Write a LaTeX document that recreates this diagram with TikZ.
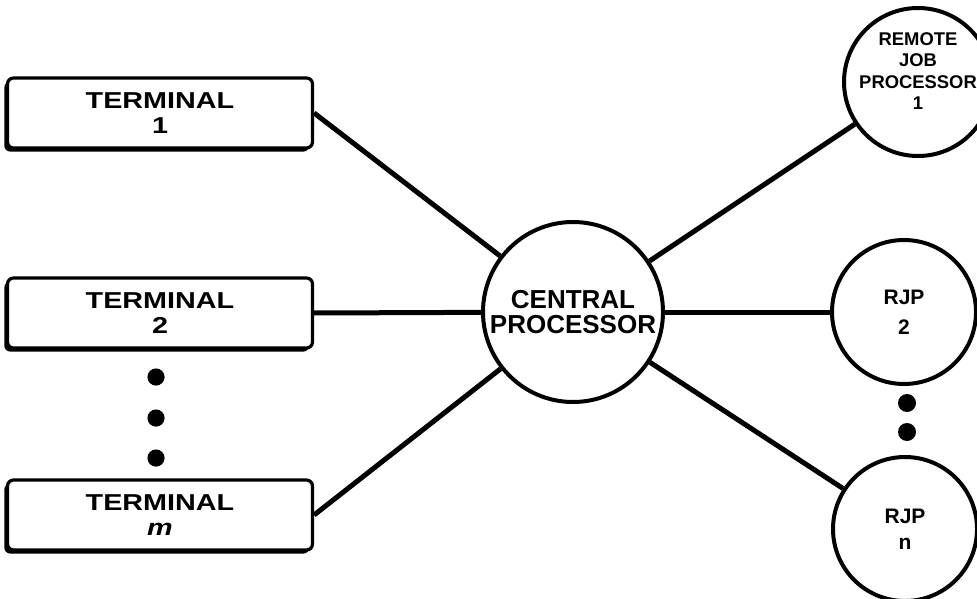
\documentclass[tikz,border=0pt]{standalone}
\usepackage{fontspec}
\setmainfont{Liberation Sans}
\newfontfamily\widefont{Liberation Sans}[FakeStretch=1.25]
\usetikzlibrary{shadows}

\begin{document}
\begin{tikzpicture}[x=0.5pt,y=-0.5pt,
	terminal/.style={draw,fill=white,line width=1.6pt,rounded corners=3pt,minimum width=152.5pt,minimum height=35pt,align=center,
		font=\widefont\bfseries\fontsize{11.5}{12.5}\selectfont,
		drop shadow={fill=black,opacity=1,shadow xshift=-1.6pt,shadow yshift=-1.8pt}},
	proc/.style={draw,fill=white,circle,line width=2pt,align=center,inner sep=0pt,font=\bfseries\fontsize{10.5}{15}\selectfont},
	link/.style={line width=2.5pt}]
	%page frame
	\clip (0,0) rectangle (977,598);
	%terminals
	\node[terminal] (t1) at (160,113) {TERMINAL\\1};
	\node[terminal] (t2) at (160,313) {TERMINAL\\2};
	\node[terminal] (tm) at (160,515) {TERMINAL\\\itshape m};
	%central processor
	\node[proc,minimum size=90pt,font=\bfseries\fontsize{13}{12.5}\selectfont] (cp) at (573,312) {CENTRAL\\PROCESSOR};
	%remote job processors
	\node[proc,minimum size=74pt] (rjp1) at (918,82) {};
	\node[align=center,inner sep=0pt,font=\bfseries\fontsize{9.2}{10.8}\selectfont] (rjp1text) at (918,71) {REMOTE\\JOB\\PROCESSOR\\1};
	\node[proc,minimum size=72pt] (rjp2) at (904,312) {RJP\\2};
	\node[proc,minimum size=72pt,font=\bfseries\fontsize{10.5}{13}\selectfont] (rjpn) at (905,529) {RJP\\n};
	%links to the central processor
	\draw[link] (t1.east) -- (cp);
	\draw[link] (t2.east) -- (cp);
	\draw[link] (tm.east) -- (cp);
	\draw[link] (cp) -- (rjp1);
	\draw[link] (cp) -- (rjp2);
	\draw[link] (cp) -- (rjpn);
	%dots
	\foreach \y in {377,418,458}
		\fill (156,\y) circle (4.3pt);
	\foreach \y in {403,432}
		\fill (907,\y) circle (4.5pt);
\end{tikzpicture}
\end{document}
